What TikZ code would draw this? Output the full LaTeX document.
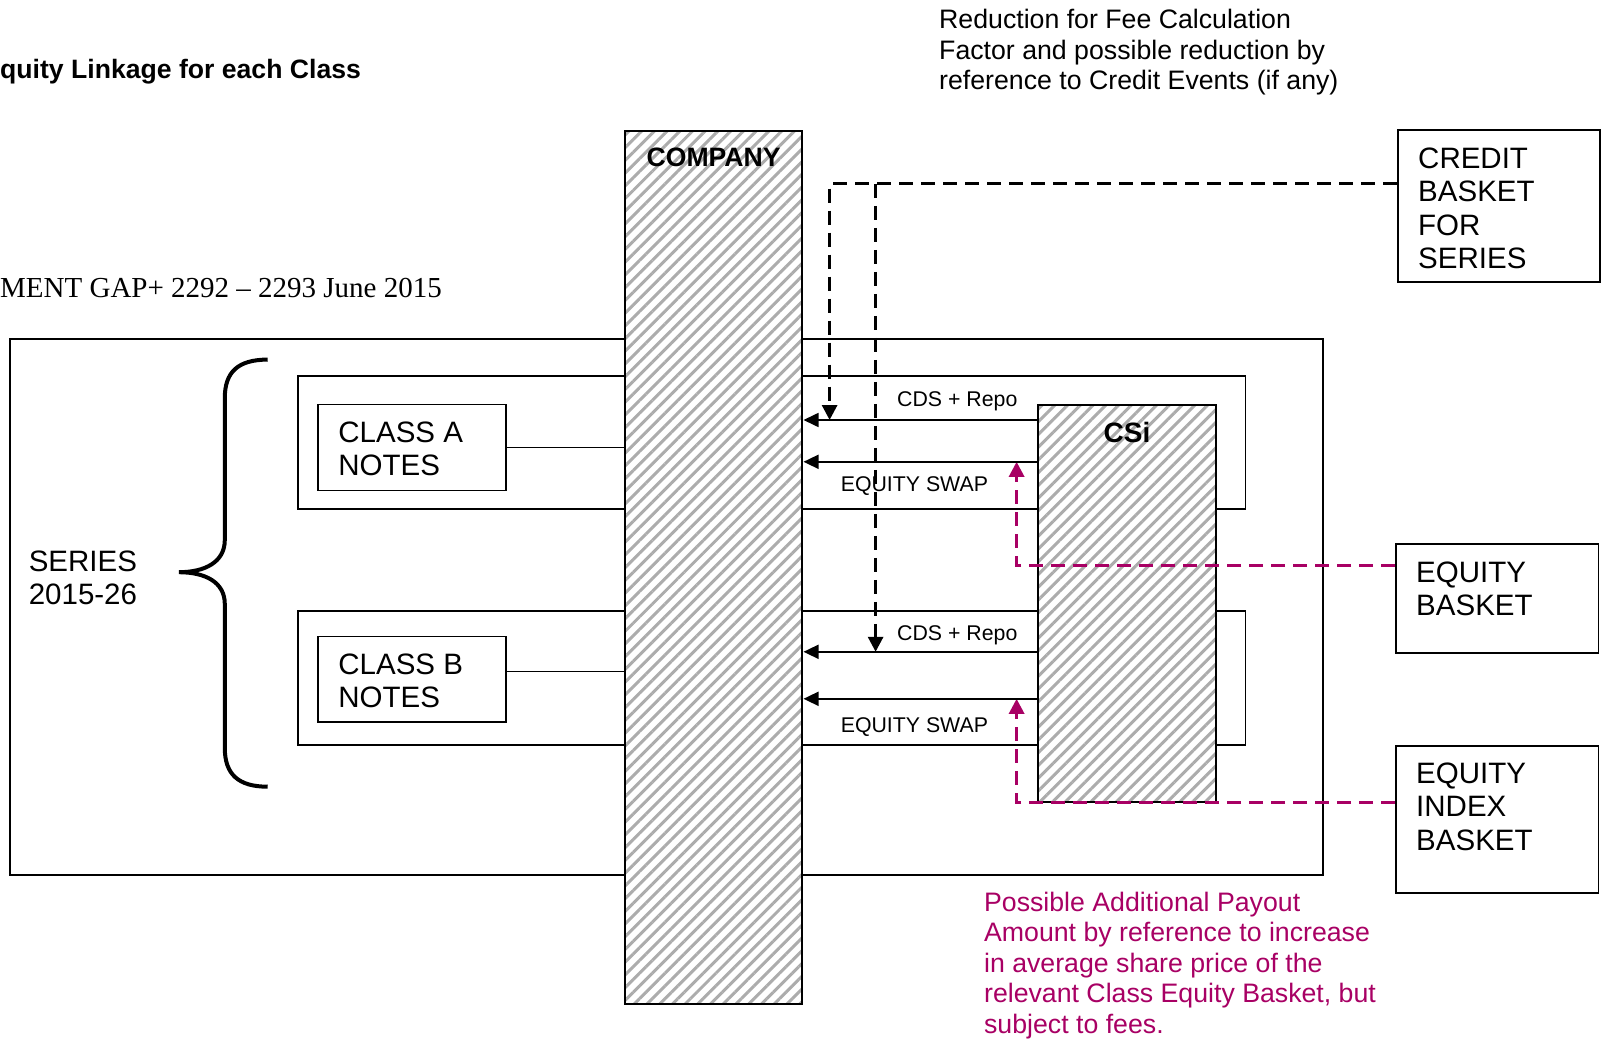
\documentclass[tikz,border=0pt]{standalone}
\usepackage{fontspec}
\setmainfont{Liberation Sans}
\newfontfamily\timesfont{Liberation Serif}
\usetikzlibrary{arrows.meta,patterns.meta}
\definecolor{payoutpink}{RGB}{168,0,100}
\definecolor{hatchgray}{RGB}{172,172,172}
\newcommand{\bigtext}{\fontsize{29.5}{33.3}\selectfont}
\newcommand{\midtext}{\fontsize{26.7}{30.6}\selectfont}
\newcommand{\smalltext}{\fontsize{21.3}{25}\selectfont}
\newcommand{\headtext}{\fontsize{26.6}{30}\selectfont\bfseries}

\tikzset{
  plainbox/.style={draw, line width=1.7pt, fill=white, inner sep=0pt},
  hatchbox/.style={draw, line width=1.8pt, inner sep=0pt, preaction={fill=white},
    pattern={Lines[angle=45,distance=9pt,line width=3pt]}, pattern color=hatchgray},
  boxtext/.style={anchor=north west, inner sep=0pt, align=left, font=\bigtext},
  flowarrow/.style={line width=1.7pt, -{Triangle[length=15pt,width=14pt]}},
  creditlink/.style={line width=3pt, dash pattern=on 14pt off 8pt, -{Triangle[length=15pt,width=15pt]}},
  equitylink/.style={creditlink, payoutpink},
}

\begin{document}
\begin{tikzpicture}[x=1pt, y=-1pt]
        \useasboundingbox (0,0) rectangle (1602,1040);

        % Headings
        \node[anchor=base west, inner sep=0pt, font=\headtext] (title) at (0,78.1) {quity Linkage for each Class};
        \node[anchor=base west, inner sep=0pt, font=\timesfont\fontsize{29}{33}\selectfont] (ment) at (0,297.6) {MENT GAP+ 2292 \textendash{} 2293 June 2015};
        \node[boxtext, font=\midtext] (feenote) at (939,8.9) {Reduction for Fee Calculation\\Factor and possible reduction by\\reference to Credit Events (if any)};

        % Series and classes
        \node[plainbox, minimum width=1312.5pt, minimum height=536pt] (series) at (666.5,607) {};
        \node[plainbox, minimum width=947.3pt, minimum height=132.8pt] (classA) at (771.95,442.4) {};
        \node[plainbox, minimum width=947.3pt, minimum height=134.3pt] (classB) at (771.95,678) {};
        \node[plainbox, minimum width=187.9pt, minimum height=85.8pt] (notesA) at (411.75,447.5) {};
        \node[plainbox, minimum width=187.9pt, minimum height=85.8pt] (notesB) at (411.75,679.4) {};
        \node[boxtext] (notesAlbl) at (338.2,421.6) {CLASS A\\NOTES};
        \node[boxtext] (notesBlbl) at (338.2,653.4) {CLASS B\\NOTES};
        \node[boxtext] (serieslbl) at (28.6,550.4) {SERIES\\2015-26};

        \draw[line width=4pt] (267.7,359.6) .. controls (238,359.6) and (224.8,372) .. (224.8,398)
          -- (224.8,540) .. controls (224.8,562) and (205,572.2) .. (178.8,572.2)
          .. controls (205,572.2) and (224.8,582) .. (224.8,604)
          -- (224.8,748) .. controls (224.8,774) and (238,786.7) .. (267.7,786.7);

        % Company
        \node[hatchbox, minimum width=176.7pt, minimum height=873.5pt] (company) at (713.65,567.55) {};
        \node[font=\headtext, anchor=base] (companylbl) at (713.65,166.7) {COMPANY};

        \coordinate (linkB) at (0,671.3);
        \draw[line width=1.6pt] (notesA.east) -- (notesA.east -| company.west);
        \draw[line width=1.6pt] (notesB.east |- linkB) -- (company.west |- linkB);

        % Baskets
        \node[plainbox, minimum width=202.3pt, minimum height=152.2pt] (credit) at (1498.85,205.9) {};
        \node[plainbox, minimum width=202.5pt, minimum height=109.3pt] (eqbasket) at (1497.25,598.65) {};
        \node[plainbox, minimum width=202.5pt, minimum height=147.2pt] (eqindex) at (1497.25,819.4) {};
        \node[boxtext] (creditlbl) at (1418,147.8) {CREDIT\\BASKET\\FOR\\SERIES};
        \node[boxtext] (eqbasketlbl) at (1416,561.4) {EQUITY\\BASKET};
        \node[boxtext] (eqindexlbl) at (1416,762.8) {EQUITY\\INDEX\\BASKET};

        % Swap legs
        \coordinate (cdsA) at (0,420);
        \coordinate (eqA) at (0,461.8);
        \coordinate (cdsB) at (0,651.8);
        \coordinate (eqB) at (0,698.8);
        \coordinate (eqrowA) at (0,565);
        \coordinate (eqrowB) at (0,802.3);
        \coordinate (riseX) at (1016.6,0);

        \node[hatchbox, minimum width=178pt, minimum height=397.7pt] (csi) at (1127,603.45) {};
        \node[font=\fontsize{28}{32}\selectfont\bfseries, anchor=base] (csilbl) at (1127,442.7) {CSi};

        \draw[equitylink] (eqbasket.west |- eqrowA) -- (riseX |- eqrowA) -- (riseX |- eqA);
        \draw[equitylink] (eqindex.west |- eqrowB) -- (riseX |- eqrowB) -- (riseX |- eqB);

        \draw[flowarrow] (csi.west |- cdsA) -- (company.east |- cdsA);
        \draw[flowarrow] (csi.west |- eqA) -- (company.east |- eqA);
        \draw[flowarrow] (csi.west |- cdsB) -- (company.east |- cdsB);
        \draw[flowarrow] (csi.west |- eqB) -- (company.east |- eqB);
        \node[font=\smalltext, anchor=base] (cdsAlbl) at (957.3,406.1) {CDS + Repo};
        \node[font=\smalltext, anchor=base] (eqAlbl) at (914.4,491.9) {EQUITY SWAP};
        \node[font=\smalltext, anchor=base] (cdsBlbl) at (957.3,640) {CDS + Repo};
        \node[font=\smalltext, anchor=base] (eqBlbl) at (914.4,732) {EQUITY SWAP};

        % Credit events
        \coordinate (creditrow) at (0,183.9);
        \coordinate (dropA) at (829.6,0);
        \coordinate (dropB) at (875.6,0);
        \draw[creditlink] (credit.west |- creditrow) -- (dropA |- creditrow) -- (dropA |- cdsA);
        \draw[creditlink] (dropB |- creditrow) -- (dropB |- cdsB);

        \node[boxtext, font=\midtext, text=payoutpink] (payout) at (983.9,891.5) {Possible Additional Payout\\Amount by reference to increase\\in average share price of the\\relevant Class Equity Basket, but\\subject to fees.};
      \end{tikzpicture}
\end{document}
